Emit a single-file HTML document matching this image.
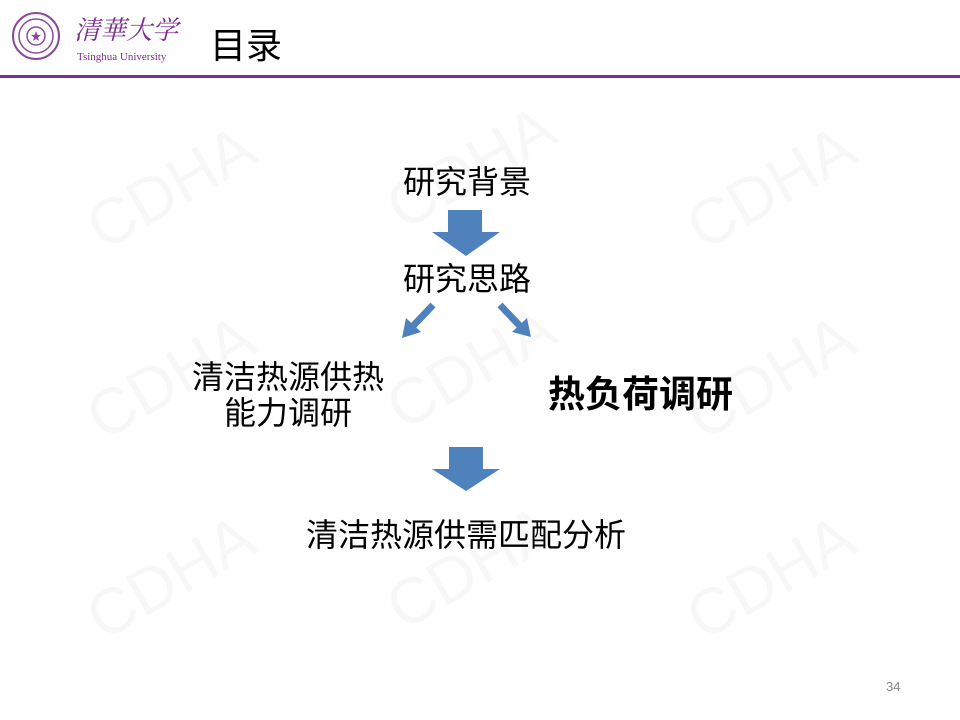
<!DOCTYPE html>
<html><head><meta charset="utf-8"><style>
body{margin:0;width:960px;height:720px;background:#fff;position:relative;overflow:hidden;font-family:"Liberation Sans","Noto Sans CJK SC",sans-serif}
.t{position:absolute;color:#000;font-size:32px;white-space:nowrap;line-height:1}
.wm{position:absolute;font-size:64px;color:rgba(0,0,0,0.03);transform:rotate(-30deg);font-family:"Liberation Sans",sans-serif}
</style></head><body>
<div class="wm" style="left:80px;top:150px">CDHA</div>
<div class="wm" style="left:380px;top:130px">CDHA</div>
<div class="wm" style="left:680px;top:150px">CDHA</div>
<div class="wm" style="left:80px;top:340px">CDHA</div>
<div class="wm" style="left:380px;top:330px">CDHA</div>
<div class="wm" style="left:680px;top:340px">CDHA</div>
<div class="wm" style="left:80px;top:540px">CDHA</div>
<div class="wm" style="left:380px;top:530px">CDHA</div>
<div class="wm" style="left:680px;top:540px">CDHA</div>
<svg style="position:absolute;left:0;top:0" width="960" height="720">
<circle cx="36" cy="36" r="23" fill="none" stroke="#8a4a9a" stroke-width="2"/>
<circle cx="36" cy="36" r="17" fill="none" stroke="#8a4a9a" stroke-width="1.5"/>
<circle cx="36" cy="36" r="9" fill="none" stroke="#8a4a9a" stroke-width="1.5"/>
<polygon points="36,31 37.5,35 41,35 38,37.5 39,41 36,39 33,41 34,37.5 31,35 34.5,35" fill="#8a4a9a"/>
<rect x="0" y="75" width="960" height="3" fill="#7030a0"/>
<polygon points="448,210 482,210 482,232 500,232 466,256 432,232 448,232" fill="#4f81bd"/>
<polygon points="449,447 483,447 483,469 500,469 466,491 432,469 449,469" fill="#4f81bd"/>
<line x1="433" y1="305" x2="413" y2="326" stroke="#4f81bd" stroke-width="7"/>
<polygon points="402,338 406,318 421,332" fill="#4f81bd"/>
<line x1="500" y1="305" x2="520" y2="326" stroke="#4f81bd" stroke-width="7"/>
<polygon points="531,337 512,332 527,318" fill="#4f81bd"/>
</svg>
<div class="t" style="left:74px;top:16px;font-size:26px;color:#7b2d8e;font-family:'Noto Serif CJK SC',serif;font-style:italic;letter-spacing:0px">清華大学</div>
<div class="t" style="left:77px;top:52px;font-size:11px;color:#7b2d8e;font-family:'Liberation Serif',serif">Tsinghua University</div>
<div class="t" style="left:210px;top:28px;font-size:36px">目录</div>
<div class="t" style="left:403px;top:166px">研究背景</div>
<div class="t" style="left:403px;top:263px">研究思路</div>
<div class="t" style="left:192px;top:361px">清洁热源供热</div>
<div class="t" style="left:224px;top:397px">能力调研</div>
<div class="t" style="left:548px;top:376px;font-weight:bold;font-size:37px">热负荷调研</div>
<div class="t" style="left:306px;top:519px">清洁热源供需匹配分析</div>
<div class="t" style="left:886px;top:680px;font-size:13px;color:#888">34</div>
</body></html>
